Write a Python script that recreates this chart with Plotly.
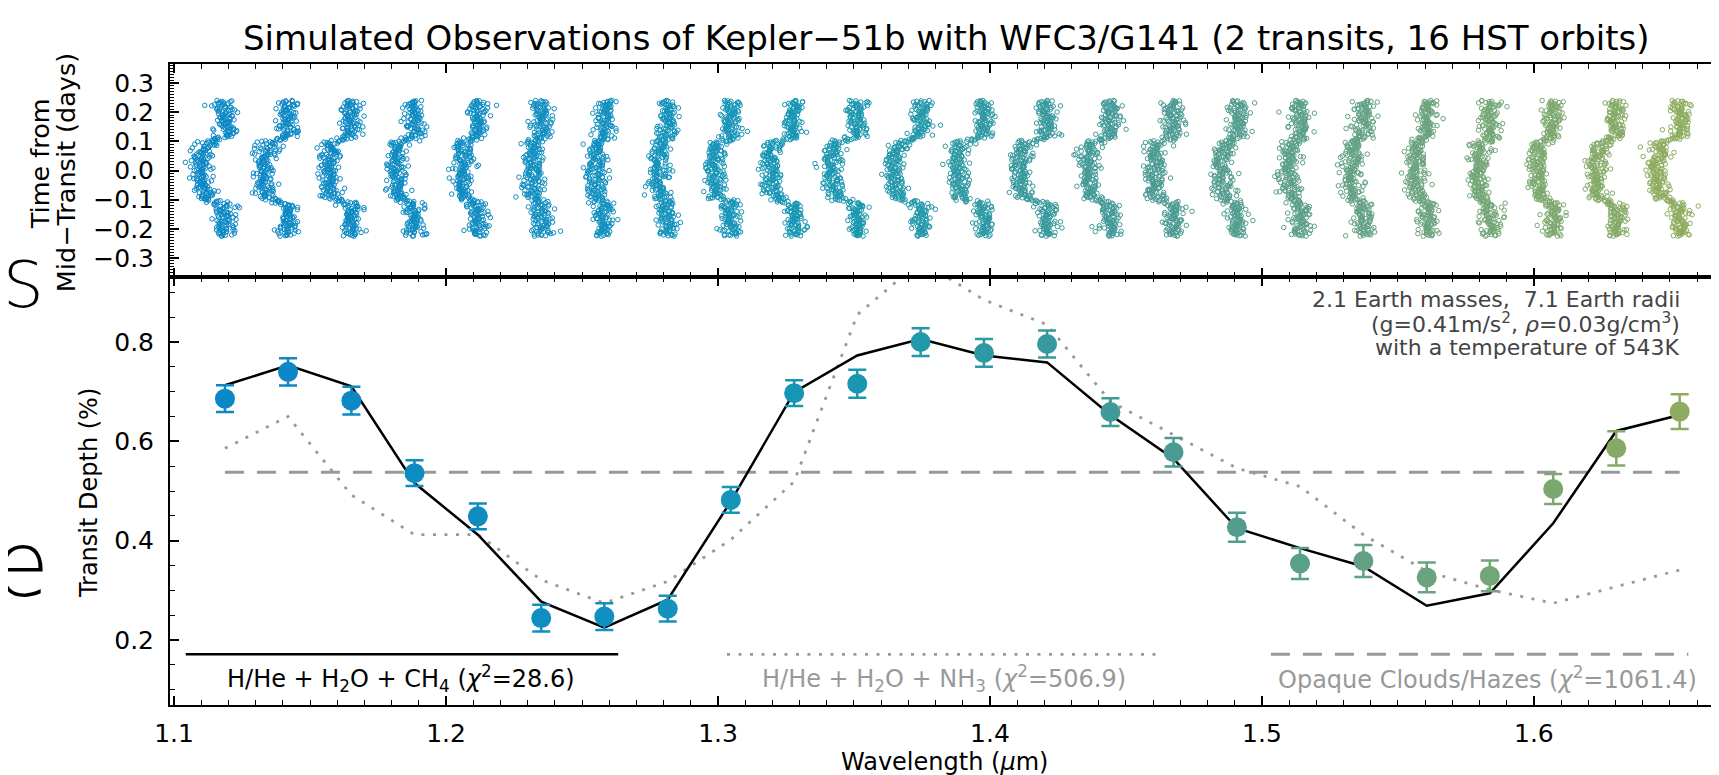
import numpy as np
import plotly.graph_objects as go

# ---------------- data ----------------
wavelength = [1.1187, 1.1419, 1.1652, 1.1884, 1.2117, 1.2350, 1.2582, 1.2815,
              1.3047, 1.3280, 1.3512, 1.3745, 1.3978, 1.4210, 1.4443, 1.4675,
              1.4908, 1.5140, 1.5373, 1.5606, 1.5838, 1.6071, 1.6303, 1.6536]
depth = [0.686, 0.740, 0.682, 0.536, 0.449, 0.244, 0.247, 0.263,
         0.482, 0.697, 0.716, 0.800, 0.778, 0.796, 0.659, 0.578,
         0.427, 0.354, 0.359, 0.326, 0.329, 0.504, 0.586, 0.660]
depth_err = [0.027, 0.0275, 0.028, 0.026, 0.026, 0.027, 0.027, 0.026,
             0.026, 0.026, 0.028, 0.028, 0.028, 0.027, 0.028, 0.0285,
             0.029, 0.031, 0.032, 0.030, 0.031, 0.030, 0.0345, 0.035]
model_ch4 = [0.713, 0.753, 0.711, 0.516, 0.412, 0.277, 0.225, 0.281,
             0.479, 0.699, 0.773, 0.806, 0.773, 0.759, 0.653, 0.565,
             0.425, 0.385, 0.348, 0.269, 0.294, 0.435, 0.621, 0.653]
model_nh3 = [0.586, 0.650, 0.492, 0.412, 0.412, 0.321, 0.274, 0.318,
             0.402, 0.519, 0.855, 0.963, 0.885, 0.835, 0.680, 0.613,
             0.546, 0.509, 0.412, 0.338, 0.301, 0.274, 0.308, 0.341]
model_flat = 0.538

legend_y = 0.171
legend_solid_x = [1.1043, 1.2633]
legend_dot_x = [1.3033, 1.4637]
legend_dash_x = [1.5033, 1.6568]
legend_label_x = [1.1834, 1.383, 1.583]
legend_label_y = 0.123
legend_labels = ["H/He + H<sub>2</sub>O + CH<sub>4</sub> (<i>χ</i><sup>2</sup>=28.6)",
                 "H/He + H<sub>2</sub>O + NH<sub>3</sub> (<i>χ</i><sup>2</sup>=506.9)",
                 "Opaque Clouds/Hazes (<i>χ</i><sup>2</sup>=1061.4)"]

bin_colors = ["#0A87C6", "#0B88C5", "#0C89C4", "#0D8BC3", "#0E8CC2", "#0F8EC1",
              "#108FC0", "#1292BC", "#1494B8", "#1696B4", "#1997B0", "#2298AB",
              "#2C99A4", "#36999D", "#419A98", "#4A9B93", "#529D8E", "#5A9F89",
              "#62A184", "#6AA37D", "#72A676", "#7BA86E", "#84AA66", "#8EAC5F"]

# simulated light-curve sampling (phase-folded HST orbits)
lc_time = np.linspace(-0.225, 0.24, 330)
lc_noise_sigma = 0.0018
lc_flux_scale = 1.1

# ---------------- figure ----------------
W, H = 1719, 775
L, R, T, B = 162, 4, 56, 78
PW, PH = W - L - R, H - T - B
split = (H - B - 269) / PH
FONT = "DejaVu Sans"


def px(x):
    return (x - L) / PW


def py(y):
    return (H - B - y) / PH


fig = go.Figure()

# top panel: light curves
rng = np.random.default_rng(51)
p = 0.084
b = 0.3
thalf = 0.118
u1, u2 = 0.25, 0.2
norm = 1 - u1 / 3 - u2 / 6
for i, (wl, d) in enumerate(zip(wavelength, depth)):
    r = np.sqrt(b**2 + (lc_time / thalf) ** 2 * ((1 + p) ** 2 - b**2))
    frac = np.clip((1 + p - r) / (2 * p), 0, 1)
    mu = np.sqrt(np.clip(1 - np.minimum(r, 1) ** 2, 0, 1))
    inten = (1 - u1 * (1 - mu) - u2 * (1 - mu) ** 2) / norm
    flux = 1 - d / 100 * frac * inten
    flux = flux + rng.normal(0, lc_noise_sigma, lc_time.size)
    xs = wl + lc_flux_scale * (flux - 1)
    fig.add_trace(go.Scatter(
        x=xs, y=lc_time, mode="markers", xaxis="x2", yaxis="y2",
        marker=dict(symbol="circle-open", size=4.5, color=bin_colors[i],
                    line=dict(width=1, color=bin_colors[i])),
        showlegend=False, hoverinfo="skip"))

DASH = "19px,13px"
DOT = "3px,8.5px"

# bottom panel: models
fig.add_trace(go.Scatter(x=[wavelength[0], wavelength[-1]], y=[model_flat, model_flat],
                         mode="lines", line=dict(color="#999999", width=3, dash=DASH),
                         showlegend=False))
fig.add_trace(go.Scatter(x=wavelength, y=model_nh3, mode="lines",
                         line=dict(color="#999999", width=2.8, dash=DOT),
                         showlegend=False))
fig.add_trace(go.Scatter(x=wavelength, y=model_ch4, mode="lines",
                         line=dict(color="black", width=2.5), showlegend=False))

# data points
for i in range(len(wavelength)):
    fig.add_trace(go.Scatter(
        x=[wavelength[i]], y=[depth[i]], mode="markers",
        marker=dict(size=20, color=bin_colors[i]),
        error_y=dict(type="data", array=[depth_err[i]], color=bin_colors[i],
                     thickness=2.5, width=9),
        showlegend=False))

# legend lines
fig.add_trace(go.Scatter(x=legend_solid_x, y=[legend_y] * 2, mode="lines",
                         line=dict(color="black", width=2.5), showlegend=False))
fig.add_trace(go.Scatter(x=legend_dot_x, y=[legend_y] * 2, mode="lines",
                         line=dict(color="#999999", width=2.8, dash=DOT),
                         showlegend=False))
fig.add_trace(go.Scatter(x=legend_dash_x, y=[legend_y] * 2, mode="lines",
                         line=dict(color="#999999", width=3, dash=DASH),
                         showlegend=False))

annotations = []
label_colors = ["black", "#999999", "#999999"]
for lx, lab, c in zip(legend_label_x, legend_labels, label_colors):
    annotations.append(dict(x=lx, y=legend_label_y, xref="x", yref="y", text=lab,
                            showarrow=False, font=dict(family=FONT, size=24, color=c),
                            xanchor="center", yanchor="middle"))

info_lines = ["2.1 Earth masses,  7.1 Earth radii",
              "(g=0.41m/s<sup>2</sup>, <i>ρ</i>=0.03g/cm<sup>3</sup>)",
              "with a temperature of 543K"]
for yy, t in zip([291, 315, 339], info_lines):
    annotations.append(dict(
        x=px(1676), y=py(yy), xref="paper", yref="paper", xanchor="right", yanchor="middle",
        text=t, showarrow=False, font=dict(family=FONT, size=22, color="#444444")))

# title
annotations.append(dict(
    x=px(938.6), y=py(30), xref="paper", yref="paper", xanchor="center", yanchor="middle",
    text="Simulated Observations of Kepler−51b with WFC3/G141 (2 transits, 16 HST orbits)",
    showarrow=False, font=dict(family=FONT, size=34, color="black")))

# axis titles
annotations.append(dict(
    x=px(32), y=py(156), xref="paper", yref="paper", xanchor="center", yanchor="middle",
    text="Time from", textangle=-90, showarrow=False,
    font=dict(family=FONT, size=25.5, color="black")))
annotations.append(dict(
    x=px(58), y=py(165), xref="paper", yref="paper", xanchor="center", yanchor="middle",
    text="Mid−Transit (days)", textangle=-90, showarrow=False,
    font=dict(family=FONT, size=25.5, color="black")))
annotations.append(dict(
    x=px(81), y=py(485), xref="paper", yref="paper", xanchor="center", yanchor="middle",
    text="Transit Depth (%)", textangle=-90, showarrow=False,
    font=dict(family=FONT, size=24, color="black")))
annotations.append(dict(
    x=px(937), y=py(754), xref="paper", yref="paper", xanchor="center", yanchor="middle",
    text="Wavelength (<i>μ</i>m)", showarrow=False,
    font=dict(family=FONT, size=24, color="black")))

# clipped large glyphs at the left edge
annotations.append(dict(
    x=px(15), y=py(277), xref="paper", yref="paper", xanchor="center", yanchor="middle",
    text="S", showarrow=False, font=dict(family=FONT, size=64, color="black", weight=200)))
annotations.append(dict(
    x=px(13), y=py(556), xref="paper", yref="paper", xanchor="center", yanchor="middle",
    text="e", showarrow=False, font=dict(family=FONT, size=90, color="black", weight=200)))

axis_common = dict(showline=True, linewidth=2, linecolor="black", mirror="ticks",
                   ticks="inside", ticklen=9, tickwidth=1.5, tickcolor="black",
                   showgrid=False, zeroline=False,
                   tickfont=dict(family=FONT, size=25, color="black"))

xr = [1.0985, 1.6688]
fig.update_layout(
    width=W, height=H,
    margin=dict(l=L, r=R, t=T, b=B, pad=0),
    paper_bgcolor="white", plot_bgcolor="white",
    showlegend=False,
    annotations=annotations,
    xaxis=dict(range=xr, domain=[0, 1], anchor="y", tickmode="linear", tick0=1.0, dtick=0.1,
               tickformat=".1f", ticklabelstandoff=5,
               minor=dict(ticks="inside", dtick=0.01, tick0=1.0, ticklen=5, tickwidth=1.2,
                          tickcolor="black"),
               **axis_common),
    yaxis=dict(range=[0.069, 0.931], domain=[0, split], anchor="x", tickmode="linear",
               tick0=0.2, dtick=0.2, tickformat=".1f", ticklabelstandoff=9,
               minor=dict(ticks="inside", dtick=0.05, tick0=0.0, ticklen=5, tickwidth=1.2,
                          tickcolor="black"),
               **axis_common),
    xaxis2=dict(range=xr, domain=[0, 1], anchor="y2", matches="x", tickmode="linear",
                tick0=1.0, dtick=0.1, showticklabels=False,
                minor=dict(ticks="inside", dtick=0.01, tick0=1.0, ticklen=5, tickwidth=1.2,
                           tickcolor="black"),
                **axis_common),
    yaxis2=dict(range=[-0.365, 0.365], domain=[split, 1], anchor="x2", tickmode="linear",
                tick0=0.0, dtick=0.1, tickformat=".1f", ticklabelstandoff=9,
                minor=dict(ticks="inside", dtick=0.01, tick0=0.0, ticklen=4, tickwidth=1.0,
                           tickcolor="black"),
                **axis_common),
)

fig.write_html("out.html")
